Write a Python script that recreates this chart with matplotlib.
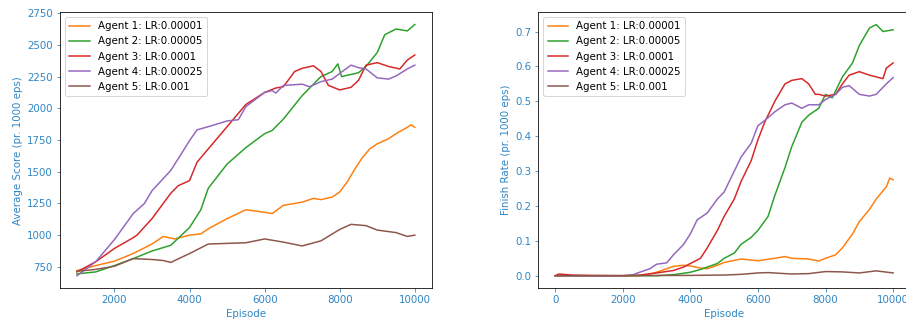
import matplotlib
matplotlib.use("Agg")
import matplotlib.pyplot as plt

# Labels
labels = ["Agent 1: LR:0.00001", "Agent 2: LR:0.00005", "Agent 3: LR:0.0001",
          "Agent 4: LR:0.00025", "Agent 5: LR:0.001"]
colors = ["tab:orange", "tab:green", "tab:red", "tab:purple", "tab:brown"]

# Average score (left plot)
score_ep_1 = [1000, 1500, 2000, 2500, 3000, 3300, 3600, 4000, 4300, 4500, 5000, 5500, 6000, 6200,
              6500, 7000, 7300, 7500, 7800, 8000, 8200, 8400, 8600, 8800, 9000, 9300, 9500, 9800,
              9900, 10000]
score_1 = [720, 760, 795, 855, 930, 990, 970, 1000, 1010, 1050, 1130, 1200, 1180, 1170,
           1235, 1260, 1290, 1280, 1300, 1340, 1420, 1520, 1610, 1680, 1720, 1760, 1800, 1850,
           1870, 1850]

score_ep_2 = [1000, 1500, 2000, 2500, 3000, 3500, 4000, 4300, 4500, 5000, 5500, 6000, 6200, 6500,
              7000, 7500, 7800, 7950, 8050, 8500, 8700, 9000, 9200, 9500, 9800, 10000]
score_2 = [695, 710, 760, 815, 875, 920, 1060, 1200, 1370, 1560, 1690, 1800, 1825, 1915,
           2100, 2250, 2290, 2350, 2250, 2280, 2330, 2440, 2580, 2625, 2610, 2660]

score_ep_3 = [1000, 1500, 2000, 2500, 2600, 3000, 3500, 3700, 4000, 4200, 4500, 5000, 5500, 6000,
              6300, 6500, 6800, 7000, 7300, 7500, 7700, 8000, 8300, 8500, 8700, 9000, 9300, 9600,
              9800, 10000]
score_3 = [710, 790, 895, 980, 1000, 1130, 1330, 1390, 1430, 1575, 1680, 1855, 2030, 2125,
           2160, 2170, 2290, 2315, 2335, 2290, 2180, 2145, 2165, 2220, 2340, 2360, 2330, 2310,
           2380, 2420]

score_ep_4 = [1000, 1500, 2000, 2500, 2800, 3000, 3500, 3800, 4000, 4200, 4500, 5000, 5300, 5500,
              6000, 6200, 6300, 6500, 7000, 7200, 7500, 7800, 8000, 8300, 8500, 8700, 9000, 9300,
              9500, 9800, 10000]
score_4 = [680, 790, 965, 1170, 1250, 1350, 1510, 1650, 1745, 1830, 1855, 1900, 1910, 2013,
           2125, 2140, 2120, 2180, 2190, 2170, 2210, 2230, 2275, 2340, 2320, 2310, 2240, 2230,
           2255, 2310, 2340]

score_ep_5 = [1000, 1500, 2000, 2500, 3000, 3300, 3500, 4000, 4500, 5000, 5500, 6000, 6500, 7000,
              7500, 8000, 8300, 8700, 9000, 9500, 9800, 10000]
score_5 = [715, 730, 755, 815, 808, 800, 785, 855, 930, 935, 940, 970, 945, 915,
           955, 1045, 1085, 1075, 1040, 1020, 990, 1000]

# Finish rate (right plot)
rate_ep_1 = [0, 2500, 2800, 3000, 3300, 3500, 3800, 4000, 4300, 4500, 4800, 5000, 5500, 6000,
             6500, 6800, 7000, 7500, 7800, 8000, 8300, 8500, 8800, 9000, 9300, 9500, 9800, 9900, 10000]
rate_1 = [0, 0, 0.005, 0.01, 0.02, 0.027, 0.03, 0.028, 0.022, 0.02, 0.03, 0.038, 0.048, 0.043,
          0.05, 0.055, 0.05, 0.048, 0.042, 0.05, 0.06, 0.08, 0.12, 0.155, 0.19, 0.22, 0.255, 0.28, 0.275]

rate_ep_2 = [0, 3000, 3500, 4000, 4300, 4500, 4800, 5000, 5300, 5500, 5800, 6000, 6300, 6500,
             6800, 7000, 7300, 7500, 7800, 8000, 8200, 8500, 8800, 9000, 9300, 9500, 9700, 10000]
rate_2 = [0, 0, 0.003, 0.01, 0.018, 0.025, 0.035, 0.05, 0.065, 0.09, 0.11, 0.13, 0.17, 0.23,
          0.31, 0.37, 0.44, 0.46, 0.48, 0.52, 0.51, 0.57, 0.61, 0.66, 0.71, 0.72, 0.70, 0.705]

rate_ep_3 = [0, 100, 500, 1000, 2000, 2500, 3000, 3500, 3800, 4000, 4300, 4500, 4800, 5000, 5300,
             5500, 5800, 6000, 6200, 6500, 6800, 7000, 7300, 7500, 7700, 7800, 8000, 8300, 8500,
             8700, 9000, 9300, 9500, 9700, 9800, 10000]
rate_3 = [0, 0.005, 0.002, 0.001, 0, 0.002, 0.008, 0.015, 0.025, 0.035, 0.05, 0.08, 0.13, 0.17, 0.22,
          0.27, 0.33, 0.39, 0.44, 0.50, 0.55, 0.56, 0.565, 0.55, 0.52, 0.52, 0.515, 0.52, 0.55,
          0.575, 0.585, 0.575, 0.57, 0.565, 0.595, 0.61]

rate_ep_4 = [0, 2000, 2300, 2500, 2800, 3000, 3300, 3500, 3800, 4000, 4200, 4500, 4800, 5000, 5300,
             5500, 5800, 6000, 6200, 6500, 6800, 7000, 7300, 7500, 7800, 8000, 8300, 8500, 8700,
             9000, 9300, 9500, 9800, 10000]
rate_4 = [0, 0, 0.003, 0.01, 0.02, 0.033, 0.037, 0.06, 0.09, 0.12, 0.16, 0.18, 0.22, 0.24, 0.30,
          0.34, 0.38, 0.43, 0.445, 0.47, 0.49, 0.495, 0.48, 0.49, 0.49, 0.505, 0.52, 0.54, 0.545,
          0.52, 0.515, 0.52, 0.55, 0.568]

rate_ep_5 = [0, 4000, 5000, 5500, 6000, 6300, 7000, 7500, 8000, 8500, 9000, 9500, 10000]
rate_5 = [0, 0.001, 0.002, 0.004, 0.008, 0.009, 0.005, 0.006, 0.012, 0.011, 0.008, 0.014, 0.008]

score_eps = [score_ep_1, score_ep_2, score_ep_3, score_ep_4, score_ep_5]
scores = [score_1, score_2, score_3, score_4, score_5]
rate_eps = [rate_ep_1, rate_ep_2, rate_ep_3, rate_ep_4, rate_ep_5]
rates = [rate_1, rate_2, rate_3, rate_4, rate_5]

text_color = "#2f86c3"
plt.rcParams["font.size"] = 10.3

fig = plt.figure(figsize=(906 / 72, 323 / 72), dpi=72)
ax1 = fig.add_axes([60 / 906, 1 - 288.3 / 323, 371.7 / 906, 276.3 / 323])
ax2 = fig.add_axes([538.3 / 906, 1 - 288.3 / 323, 371.7 / 906, 276.3 / 323])

for ep, val, lab, col in zip(score_eps, scores, labels, colors):
    ax1.plot(ep, val, color=col, label=lab, linewidth=1.5)
for ep, val, lab, col in zip(rate_eps, rates, labels, colors):
    ax2.plot(ep, val, color=col, label=lab, linewidth=1.5)

ax1.set_ylabel("Average Score (pr. 1000 eps)", color=text_color)
ax2.set_ylabel("Finish Rate (pr. 1000 eps)", color=text_color)
ax1.set_yticks([750, 1000, 1250, 1500, 1750, 2000, 2250, 2500, 2750])
for ax in (ax1, ax2):
    ax.set_xlabel("Episode", color=text_color)
    ax.tick_params(colors=text_color)
    ax.legend(loc="upper left")

fig.savefig("out.png", dpi=72)
